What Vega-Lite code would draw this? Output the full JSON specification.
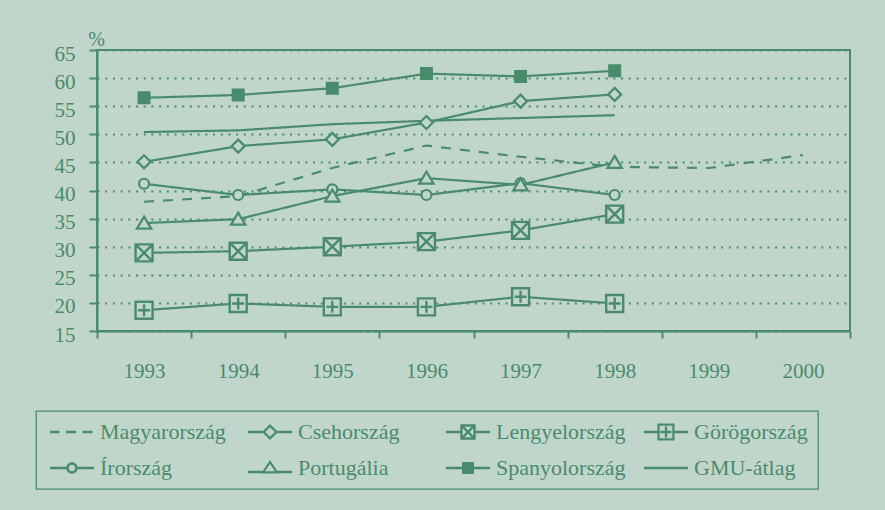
{
  "$schema": "https://vega.github.io/schema/vega-lite/v6.json",
  "width": 753,
  "height": 281,
  "autosize": {"type": "none"},
  "padding": {"left": 97, "top": 50, "right": 35, "bottom": 179},
  "background": "#c1d6cb",
  "config": {
    "font": "Liberation Serif",
    "view": {"stroke": "#4a8b6d", "strokeWidth": 2},
    "axis": {
      "labelFont": "Liberation Serif",
      "titleFont": "Liberation Serif",
      "labelColor": "#4a8b6d",
      "titleColor": "#4a8b6d",
      "domainColor": "#4a8b6d",
      "tickColor": "#4a8b6d",
      "domainWidth": 2,
      "tickWidth": 2,
      "labelFontSize": 21,
      "titleFontWeight": "normal"
    },
    "legend": {
      "labelFont": "Liberation Serif",
      "labelFontSize": 22,
      "labelColor": "#4a8b6d",
      "strokeColor": "#4a8b6d",
      "strokeWidth": 1.3
    }
  },
  "data": {
    "values": [
      {"series": "Magyarország", "year": "1993", "value": 38.0},
      {"series": "Magyarország", "year": "1994", "value": 39.0},
      {"series": "Magyarország", "year": "1995", "value": 44.0},
      {"series": "Magyarország", "year": "1996", "value": 48.0},
      {"series": "Magyarország", "year": "1997", "value": 46.0},
      {"series": "Magyarország", "year": "1998", "value": 44.2},
      {"series": "Magyarország", "year": "1999", "value": 44.0},
      {"series": "Magyarország", "year": "2000", "value": 46.3},
      {"series": "GMU-átlag", "year": "1993", "value": 50.4},
      {"series": "GMU-átlag", "year": "1994", "value": 50.7},
      {"series": "GMU-átlag", "year": "1995", "value": 51.8},
      {"series": "GMU-átlag", "year": "1996", "value": 52.4},
      {"series": "GMU-átlag", "year": "1997", "value": 52.9},
      {"series": "GMU-átlag", "year": "1998", "value": 53.4},
      {"series": "Spanyolország", "year": "1993", "value": 56.5},
      {"series": "Spanyolország", "year": "1994", "value": 57.0},
      {"series": "Spanyolország", "year": "1995", "value": 58.2},
      {"series": "Spanyolország", "year": "1996", "value": 60.8},
      {"series": "Spanyolország", "year": "1997", "value": 60.3},
      {"series": "Spanyolország", "year": "1998", "value": 61.3},
      {"series": "Csehország", "year": "1993", "value": 45.1},
      {"series": "Csehország", "year": "1994", "value": 47.9},
      {"series": "Csehország", "year": "1995", "value": 49.1},
      {"series": "Csehország", "year": "1996", "value": 52.1},
      {"series": "Csehország", "year": "1997", "value": 55.9},
      {"series": "Csehország", "year": "1998", "value": 57.1},
      {"series": "Lengyelország", "year": "1993", "value": 28.9},
      {"series": "Lengyelország", "year": "1994", "value": 29.2},
      {"series": "Lengyelország", "year": "1995", "value": 30.0},
      {"series": "Lengyelország", "year": "1996", "value": 30.9},
      {"series": "Lengyelország", "year": "1997", "value": 32.9},
      {"series": "Lengyelország", "year": "1998", "value": 35.8},
      {"series": "Görögország", "year": "1993", "value": 18.7},
      {"series": "Görögország", "year": "1994", "value": 19.9},
      {"series": "Görögország", "year": "1995", "value": 19.3},
      {"series": "Görögország", "year": "1996", "value": 19.3},
      {"series": "Görögország", "year": "1997", "value": 21.1},
      {"series": "Görögország", "year": "1998", "value": 19.9},
      {"series": "Írország", "year": "1993", "value": 41.2},
      {"series": "Írország", "year": "1994", "value": 39.2},
      {"series": "Írország", "year": "1995", "value": 40.2},
      {"series": "Írország", "year": "1996", "value": 39.2},
      {"series": "Írország", "year": "1997", "value": 41.3},
      {"series": "Írország", "year": "1998", "value": 39.2},
      {"series": "Portugália", "year": "1993", "value": 34.2},
      {"series": "Portugália", "year": "1994", "value": 34.9},
      {"series": "Portugália", "year": "1995", "value": 39.0},
      {"series": "Portugália", "year": "1996", "value": 42.2},
      {"series": "Portugália", "year": "1997", "value": 41.0},
      {"series": "Portugália", "year": "1998", "value": 45.0}
    ]
  },
  "encoding": {
    "x": {
      "field": "year",
      "type": "ordinal",
      "scale": {"type": "band", "paddingInner": 0, "paddingOuter": 0},
      "axis": {
        "title": null,
        "labelAngle": 0,
        "tickBand": "extent",
        "tickSize": 7,
        "labelPadding": 22,
        "grid": false
      }
    },
    "y": {
      "field": "value",
      "type": "quantitative",
      "scale": {"domain": [15, 65], "nice": false, "zero": false},
      "axis": {
        "title": "%",
        "values": [15, 20, 25, 30, 35, 40, 45, 50, 55, 60, 65],
        "titleAngle": 0,
        "titleX": -1,
        "titleY": -5,
        "titleAlign": "center",
        "titleBaseline": "alphabetic",
        "titleFontSize": 20,
        "labelPadding": 14,
        "labelOffset": 4,
        "tickSize": 8,
        "grid": true,
        "gridColor": "#4a8b6d",
        "gridDash": [2, 5.7],
        "gridWidth": 2
      }
    }
  },
  "layer": [
    {
      "mark": {"type": "line", "stroke": "#4a8b6d", "strokeWidth": 2.2},
      "encoding": {
        "strokeDash": {
          "field": "series",
          "type": "nominal",
          "scale": {
            "domain": ["Magyarország", "Csehország", "Lengyelország", "Görögország", "Írország", "Portugália", "Spanyolország", "GMU-átlag"],
            "range": [[10, 9], [1, 0], [1, 0], [1, 0], [1, 0], [1, 0], [1, 0], [1, 0]]
          },
          "legend": null
        }
      }
    },
    {
      "transform": [{"filter": "datum.series === 'Spanyolország'"}],
      "mark": {"type": "point", "filled": true, "shape": "M-0.55,-0.55H0.55V0.55H-0.55Z", "size": 400, "fill": "#4a8b6d", "stroke": "#4a8b6d", "strokeWidth": 2, "opacity": 1}
    },
    {
      "transform": [{"filter": "datum.series === 'Csehország'"}],
      "mark": {"type": "point", "filled": true, "shape": "M0,-0.65L0.65,0L0,0.65L-0.65,0Z", "size": 400, "fill": "#c1d6cb", "stroke": "#4a8b6d", "strokeWidth": 2.2, "opacity": 1}
    },
    {
      "transform": [{"filter": "datum.series === 'Lengyelország'"}],
      "mark": {"type": "point", "filled": true, "shape": "M-0.85,-0.85H0.85V0.85H-0.85ZM-0.85,-0.85L0.85,0.85M0.85,-0.85L-0.85,0.85", "size": 400, "fill": "#c1d6cb", "stroke": "#4a8b6d", "strokeWidth": 2.4, "opacity": 1}
    },
    {
      "transform": [{"filter": "datum.series === 'Görögország'"}],
      "mark": {"type": "point", "filled": true, "shape": "M-0.85,-0.85H0.85V0.85H-0.85ZM0,-0.6V0.6M-0.6,0H0.6", "size": 400, "fill": "#c1d6cb", "stroke": "#4a8b6d", "strokeWidth": 2.4, "opacity": 1}
    },
    {
      "transform": [{"filter": "datum.series === 'Írország'"}],
      "mark": {"type": "point", "filled": true, "shape": "M-0.5,0A0.5,0.5 0 1,0 0.5,0A0.5,0.5 0 1,0 -0.5,0Z", "size": 400, "fill": "#c1d6cb", "stroke": "#4a8b6d", "strokeWidth": 2.2, "opacity": 1}
    },
    {
      "transform": [{"filter": "datum.series === 'Portugália'"}],
      "mark": {"type": "point", "filled": true, "shape": "M0,-0.65L0.72,0.55L-0.72,0.55Z", "size": 400, "fill": "#c1d6cb", "stroke": "#4a8b6d", "strokeWidth": 2.2, "opacity": 1}
    },
    {
      "transform": [{"filter": "datum.series === 'nincs'"}],
      "mark": {"type": "point", "filled": true, "color": "#4a8b6d", "size": 400, "opacity": 1},
      "encoding": {
        "shape": {
          "field": "series",
          "type": "nominal",
          "scale": {
            "domain": ["Magyarország", "Csehország", "Lengyelország", "Görögország", "Írország", "Portugália", "Spanyolország", "GMU-átlag"],
            "range": [
              "M-2.2,-0.12H-1.25V0.12H-2.2ZM-0.6,-0.12H0.4V0.12H-0.6ZM1.05,-0.12H2.05V0.12H1.05Z",
              "M-2.2,-0.12H-0.65V0.12H-2.2ZM0.65,-0.12H2.2V0.12H0.65ZM0,-0.8L0.8,0L0,0.8L-0.8,0ZM0,-0.48L-0.48,0L0,0.48L0.48,0Z",
              "M-2.2,-0.12H-0.65V0.12H-2.2ZM0.65,-0.12H2.2V0.12H0.65ZM-0.77,-0.77H0.77V0.77H-0.77ZM-0.53,-0.53V0.53H0.53V-0.53ZM-0.62,-0.46L-0.46,-0.62L0.62,0.46L0.46,0.62ZM0.46,-0.62L0.62,-0.46L-0.46,0.62L-0.62,0.46Z",
              "M-2.2,-0.12H-0.75V0.12H-2.2ZM0.75,-0.12H2.2V0.12H0.75ZM-0.86,-0.86H0.86V0.86H-0.86ZM-0.63,-0.63V0.63H0.63V-0.63ZM-0.12,-0.55H0.12V0.55H-0.12ZM-0.55,-0.12H0.55V0.12H-0.55Z",
              "M-2.2,-0.12H-0.45V0.12H-2.2ZM0.45,-0.12H2.2V0.12H0.45ZM-0.57,0A0.57,0.57 0 1,1 0.57,0A0.57,0.57 0 1,1 -0.57,0ZM-0.33,0A0.33,0.33 0 1,0 0.33,0A0.33,0.33 0 1,0 -0.33,0Z",
              "M-2.2,0.28H-0.75V0.52H-2.2ZM0.75,0.28H2.2V0.52H0.75ZM0,-0.8L0.9,0.56L-0.9,0.56ZM0,-0.4L-0.5,0.33L0.5,0.33Z",
              "M-2.2,-0.12H2.2V0.12H-2.2ZM-0.6,-0.6H0.6V0.6H-0.6Z",
              "M-2.2,-0.12H2.2V0.12H-2.2Z"
            ]
          },
          "legend": {
            "title": null,
            "orient": "none",
            "legendX": -61,
            "legendY": 361,
            "columns": 4,
            "direction": "horizontal",
            "gridAlign": "all",
            "columnPadding": 14,
            "rowPadding": 14,
            "padding": 10,
            "symbolSize": 400,
            "symbolOffset": 15,
            "labelOffset": 17,
            "symbolFillColor": "#4a8b6d",
            "symbolStrokeColor": "#4a8b6d",
            "symbolStrokeWidth": 0.01,
            "symbolOpacity": 1
          }
        }
      }
    }
  ],
  "resolve": {"scale": {"shape": "independent"}}
}
